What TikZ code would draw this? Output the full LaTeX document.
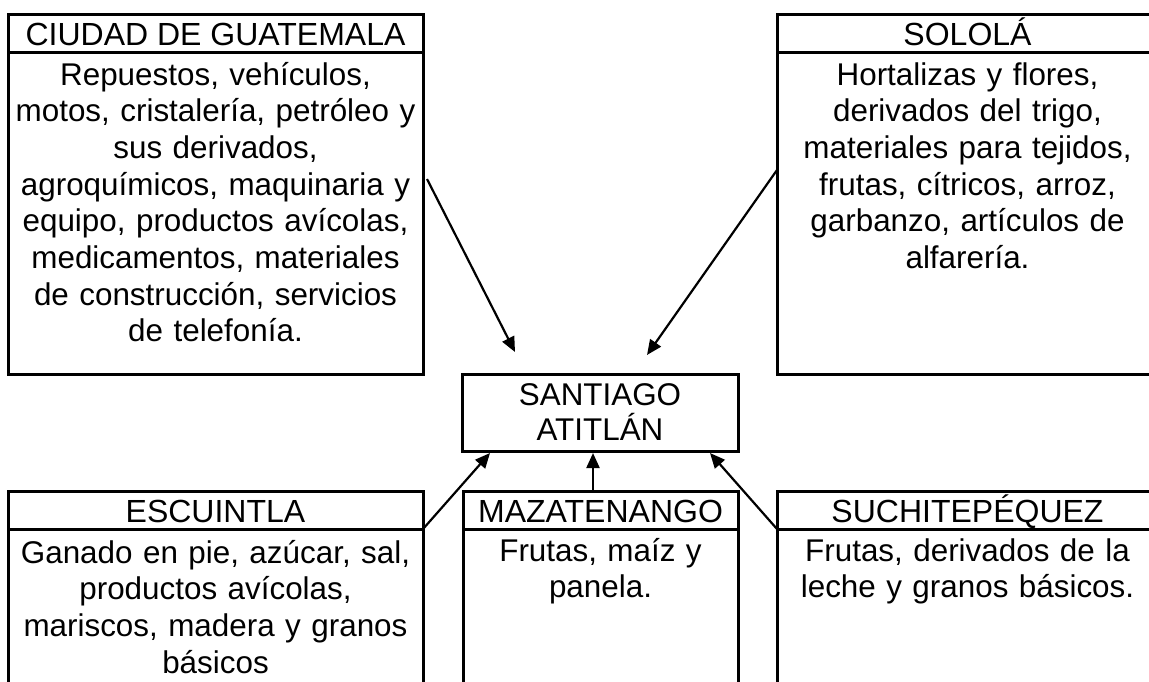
\documentclass[tikz,border=0pt]{standalone}
\usepackage{fontspec}
\setmainfont{Liberation Sans}
\usetikzlibrary{arrows.meta}
\usetikzlibrary{positioning}
\tikzset{
title box/.style = { rectangle, draw = black, line width = 1.5pt, minimum height = 19pt, inner sep = 0pt, outer sep = 0pt, text height = 12pt, text depth = 0pt, font = \fontsize{16}{18.35}\selectfont },
body box/.style = { rectangle, draw = black, line width = 1.5pt, inner sep = 0pt, outer sep = 0pt, anchor = north },
body text/.style = { text width = 240pt, align = center, inner sep = 0pt, anchor = base, font = \fontsize{15.7}{18.35}\selectfont },
town/.style = { rectangle, draw = black, line width = 1.5pt, inner sep = 0pt, outer sep = 0pt, align = center, font = \fontsize{15.7}{17.5}\selectfont },
link/.style = { line width = 1.1pt, -{Triangle[length = 7.5pt, width = 6.5pt]} },
}

\begin{document}
\begin{tikzpicture}[x = 0.5pt, y = -0.5pt]
    \clip (0, 0) rectangle (1149, 681);
    % proveedores arriba
    \node[title box, minimum width = 207.5pt, anchor = north west] (guaT) at (8, 14) {CIUDAD DE GUATEMALA};
    \node[body box, minimum width = 207.5pt, minimum height = 161pt, below = 0pt of guaT] (guaB) {};
    \node[body text] (guaText) at ([shift = {(0, 33)}]guaB.north) {Repuestos, vehículos,\\motos, cristalería, petróleo y\\sus derivados,\\agroquímicos, maquinaria y\\equipo, productos avícolas,\\medicamentos, materiales\\de construcción, servicios\\de telefonía.};
    \node[title box, minimum width = 190.5pt, anchor = north west] (solT) at (777, 14) {SOLOLÁ};
    \node[body box, minimum width = 190.5pt, minimum height = 161pt, below = 0pt of solT] (solB) {};
    \node[body text] (solText) at ([shift = {(0, 33)}]solB.north) {Hortalizas y flores,\\derivados del trigo,\\materiales para tejidos,\\frutas, cítricos, arroz,\\garbanzo, artículos de\\alfarería.};
    % destino
    \node[town, minimum width = 138pt, minimum height = 38.5pt] (san) at (600, 412.5) {SANTIAGO\\ATITLÁN};
    % proveedores abajo
    \node[title box, minimum width = 207.5pt, anchor = north west] (escT) at (8, 491) {ESCUINTLA};
    \node[body box, minimum width = 207.5pt, minimum height = 100pt, below = 0pt of escT] (escB) {};
    \node[body text] (escText) at ([shift = {(0, 34)}]escB.north) {Ganado en pie, azúcar, sal,\\productos avícolas,\\mariscos, madera y granos\\básicos};
    \node[title box, minimum width = 137.5pt, anchor = north west] (mazT) at (463, 491) {MAZATENANGO};
    \node[body box, minimum width = 137.5pt, minimum height = 100pt, below = 0pt of mazT] (mazB) {};
    \node[body text] (mazText) at ([shift = {(0, 32)}]mazB.north) {Frutas, maíz y\\panela.};
    \node[title box, minimum width = 190.5pt, anchor = north west] (sucT) at (777, 491) {SUCHITEPÉQUEZ};
    \node[body box, minimum width = 190.5pt, minimum height = 100pt, below = 0pt of sucT] (sucB) {};
    \node[body text] (sucText) at ([shift = {(0, 32)}]sucB.north) {Frutas, derivados de la\\leche y granos básicos.};
    % flechas
    \draw[link] ([shift = {(4, -34)}]guaB.east) -- ([shift = {(-85, -22)}]san.north);
    \draw[link] ([shift = {(0, -43)}]solB.west) -- ([shift = {(47, -19)}]san.north);
    \draw[link] (escT.south east) -- ([shift = {(-110, 2)}]san.south);
    \draw[link] ([xshift = -3.75pt]mazT.north) -- ([shift = {(-7, 2)}]san.south);
    \draw[link] (sucT.south west) -- ([shift = {(110, 2)}]san.south);
\end{tikzpicture}
\end{document}
